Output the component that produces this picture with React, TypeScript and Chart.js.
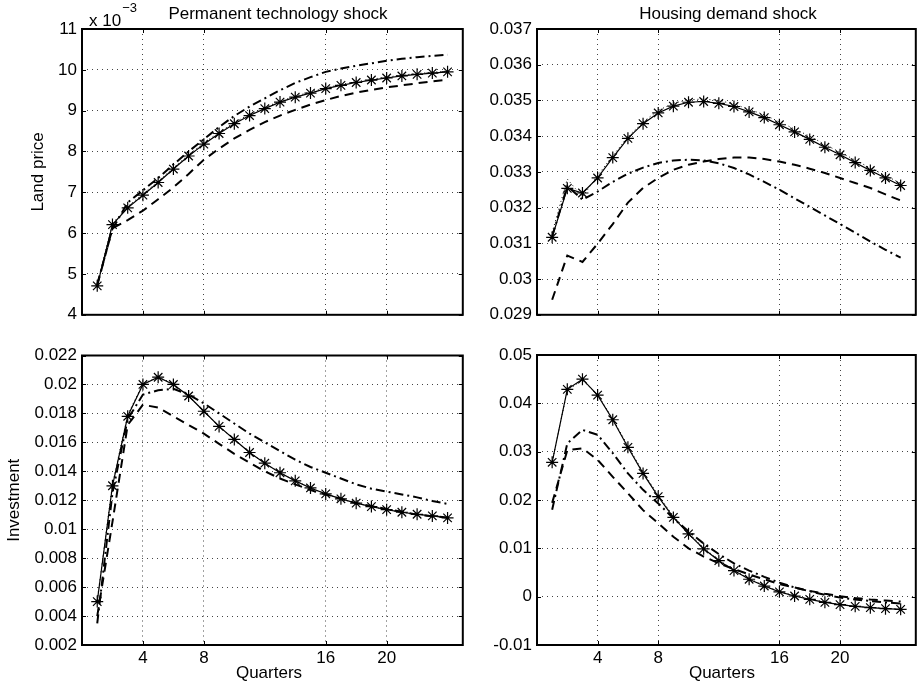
import React, { useEffect, useRef } from "react";
import { Chart, registerables } from "chart.js";

Chart.register(...registerables);

const FONT = "'Liberation Sans', Arial, Helvetica, sans-serif";
const FS = 17;

// ---------- data ----------
const quarters = [1, 2, 3, 4, 5, 6, 7, 8, 9, 10, 11, 12, 13, 14, 15, 16, 17, 18, 19, 20, 21, 22, 23, 24];
const xTicks = [4, 8, 16, 20];

// Top-left: Land price, permanent technology shock (values in units of 10^-3)
const tlSolid = [4.71, 6.21, 6.62, 6.93, 7.24, 7.57, 7.89, 8.18, 8.44, 8.68, 8.88, 9.05, 9.21, 9.33, 9.43, 9.54, 9.62, 9.69, 9.75, 9.8, 9.85, 9.89, 9.92, 9.95];
const tlDotted = [4.73, 6.24, 6.65, 6.96, 7.27, 7.6, 7.92, 8.21, 8.47, 8.71, 8.91, 9.08, 9.23, 9.35, 9.46, 9.56, 9.64, 9.71, 9.77, 9.82, 9.87, 9.91, 9.94, 9.97];
const tlDashed = [4.72, 6.12, 6.32, 6.55, 6.83, 7.12, 7.45, 7.8, 8.07, 8.32, 8.53, 8.72, 8.88, 9.02, 9.15, 9.26, 9.36, 9.44, 9.51, 9.57, 9.62, 9.67, 9.72, 9.76];
const tlDashDot = [4.75, 6.1, 6.75, 7.05, 7.35, 7.68, 8.0, 8.3, 8.6, 8.87, 9.1, 9.3, 9.5, 9.68, 9.82, 9.95, 10.03, 10.1, 10.16, 10.22, 10.27, 10.31, 10.34, 10.37];
const tlYTicks = [4, 5, 6, 7, 8, 9, 10, 11];
const tlYLabels = ["4", "5", "6", "7", "8", "9", "10", "11"];

// Top-right: Land price, housing demand shock
const trSolid = [0.03117, 0.03254, 0.03241, 0.03283, 0.0334, 0.03394, 0.03435, 0.03465, 0.03484, 0.03495, 0.03497, 0.03492, 0.03483, 0.03468, 0.03452, 0.03432, 0.03412, 0.03391, 0.03369, 0.03348, 0.03326, 0.03304, 0.03283, 0.03262];
const trDotted = [0.0313, 0.0328, 0.0323, 0.0329, 0.03345, 0.03398, 0.0344, 0.03472, 0.03492, 0.03502, 0.03504, 0.035, 0.0349, 0.03475, 0.0346, 0.0344, 0.0342, 0.034, 0.03377, 0.03355, 0.03333, 0.03311, 0.0329, 0.03268];
const trDashed = [0.02942, 0.03066, 0.03048, 0.03099, 0.03154, 0.03214, 0.03255, 0.03283, 0.03306, 0.0332, 0.03329, 0.03336, 0.0334, 0.0334, 0.03336, 0.03329, 0.0332, 0.03309, 0.03297, 0.03283, 0.03269, 0.03255, 0.03237, 0.0322];
const trDashDot = [0.0312, 0.0326, 0.03222, 0.03245, 0.03272, 0.03295, 0.03312, 0.03325, 0.03332, 0.03334, 0.03332, 0.03324, 0.03311, 0.03293, 0.03272, 0.0325, 0.03226, 0.03202, 0.03178, 0.03154, 0.0313, 0.03105, 0.03082, 0.0306];
const trYTicks = [0.029, 0.03, 0.031, 0.032, 0.033, 0.034, 0.035, 0.036, 0.037];
const trYLabels = ["0.029", "0.03", "0.031", "0.032", "0.033", "0.034", "0.035", "0.036", "0.037"];

// Bottom-left: Investment, permanent technology shock
const blSolid = [0.005, 0.013, 0.0178, 0.02, 0.0205, 0.02, 0.0192, 0.01815, 0.0171, 0.0162, 0.0153, 0.01456, 0.0139, 0.01334, 0.01285, 0.01244, 0.0121, 0.0118, 0.01156, 0.01135, 0.01117, 0.01103, 0.01092, 0.01078];
const blDotted = [0.0051, 0.0131, 0.0179, 0.02005, 0.02052, 0.02005, 0.0192, 0.01815, 0.0171, 0.0162, 0.0153, 0.01456, 0.0139, 0.01334, 0.01285, 0.01244, 0.0121, 0.0118, 0.01156, 0.01135, 0.01117, 0.01103, 0.01092, 0.01078];
const blDashed = [0.004, 0.0105, 0.0172, 0.0186, 0.0184, 0.0178, 0.0172, 0.0166, 0.0159, 0.0152, 0.0146, 0.014, 0.0135, 0.0131, 0.0127, 0.0124, 0.0121, 0.0118, 0.0116, 0.0114, 0.0112, 0.011, 0.0109, 0.0108];
const blDashDot = [0.0035, 0.0125, 0.0176, 0.0193, 0.0196, 0.0197, 0.0193, 0.0187, 0.018, 0.0173, 0.0166, 0.016, 0.0154, 0.0148, 0.0143, 0.0139, 0.0135, 0.0131, 0.0128, 0.0126, 0.0124, 0.0122, 0.01195, 0.01175];
const blYTicks = [0.002, 0.004, 0.006, 0.008, 0.01, 0.012, 0.014, 0.016, 0.018, 0.02, 0.022];
const blYLabels = ["0.002", "0.004", "0.006", "0.008", "0.01", "0.012", "0.014", "0.016", "0.018", "0.02", "0.022"];

// Bottom-right: Investment, housing demand shock
const brSolid = [0.0278, 0.0429, 0.045, 0.0417, 0.0366, 0.0309, 0.0255, 0.0207, 0.0164, 0.013, 0.0099, 0.00745, 0.0054, 0.0036, 0.0022, 0.001, 0.00014, -0.00055, -0.00117, -0.00166, -0.002, -0.00228, -0.00248, -0.00262];
const brDotted = [0.0279, 0.0427, 0.0448, 0.0418, 0.0368, 0.0312, 0.0258, 0.021, 0.0167, 0.0133, 0.0101, 0.0076, 0.0055, 0.0037, 0.0023, 0.0011, 0.0002, -0.0005, -0.0011, -0.0016, -0.002, -0.0022, -0.0024, -0.0026];
const brDashed = [0.0194, 0.0303, 0.0307, 0.0283, 0.0248, 0.0214, 0.0179, 0.0152, 0.0124, 0.01, 0.0083, 0.0069, 0.0057, 0.0046, 0.0036, 0.0026, 0.0019, 0.0012, 0.0006, 0.0001, -0.0003, -0.0006, -0.0008, -0.001];
const brDashDot = [0.018, 0.0317, 0.0345, 0.0335, 0.0297, 0.0255, 0.0221, 0.0193, 0.0162, 0.0135, 0.011, 0.0088, 0.0069, 0.0054, 0.0041, 0.0029, 0.0019, 0.0011, 0.0004, -0.0002, -0.0006, -0.0009, -0.0012, -0.0014];
const brYTicks = [-0.01, 0, 0.01, 0.02, 0.03, 0.04, 0.05];
const brYLabels = ["-0.01", "0", "0.01", "0.02", "0.03", "0.04", "0.05"];

// ---------- chart helpers ----------
type Series = { solid: number[]; dotted: number[]; dashed: number[]; dashDot: number[] };

type PanelProps = {
  x: number; y: number; w: number; h: number;
  padTop: number; padRight: number; padBottom: number;
  yWidth: number; xHeight: number;
  yTicks: number[]; yLabels: string[];
  showXLabels: boolean;
  series: Series;
  title?: string; titleX?: number; titleY?: number;
  yLabel?: string; yLabelX?: number;
  xLabel?: string; xLabelX?: number; xLabelY?: number;
  multiplier?: boolean;
};

const pts = (vals: number[]) => vals.map((v, i) => ({ x: quarters[i], y: v }));

function Panel(p: PanelProps) {
  const ref = useRef<HTMLCanvasElement>(null);
  useEffect(() => {
    const annot = {
      id: "annot",
      afterDraw(chart: any) {
        const { ctx, chartArea: a, scales } = chart;
        ctx.save();
        // inward tick marks
        ctx.strokeStyle = "#000";
        ctx.lineWidth = 1;
        ctx.beginPath();
        for (const t of xTicks) {
          const px = Math.round(scales.x.getPixelForValue(t)) + 0.5;
          ctx.moveTo(px, a.bottom); ctx.lineTo(px, a.bottom - 4);
          ctx.moveTo(px, a.top); ctx.lineTo(px, a.top + 4);
        }
        for (const t of p.yTicks) {
          const py = Math.round(scales.y.getPixelForValue(t)) + 0.5;
          ctx.moveTo(a.left, py); ctx.lineTo(a.left + 4, py);
          ctx.moveTo(a.right, py); ctx.lineTo(a.right - 4, py);
        }
        ctx.stroke();
        // box
        ctx.lineWidth = 2;
        ctx.strokeRect(a.left, a.top, a.right - a.left, a.bottom - a.top);
        // texts
        ctx.fillStyle = "#000";
        ctx.font = `${FS}px ${FONT}`;
        if (p.title) {
          ctx.textAlign = "center";
          ctx.textBaseline = "alphabetic";
          ctx.fillText(p.title, p.titleX ?? (a.left + a.right) / 2, p.titleY ?? 19);
        }
        if (p.multiplier) {
          ctx.textAlign = "left";
          ctx.textBaseline = "alphabetic";
          ctx.fillText("x 10", a.left + 7, 25.5);
          const wx = ctx.measureText("x 10").width;
          ctx.font = `${Math.round(FS * 0.75)}px ${FONT}`;
          ctx.fillText("\u22123", a.left + 8 + wx, 12);
          ctx.font = `${FS}px ${FONT}`;
        }
        if (p.yLabel) {
          ctx.save();
          ctx.translate(p.yLabelX ?? 20, (a.top + a.bottom) / 2);
          ctx.rotate(-Math.PI / 2);
          ctx.textAlign = "center";
          ctx.textBaseline = "middle";
          ctx.fillText(p.yLabel, 0, 0);
          ctx.restore();
        }
        if (p.xLabel) {
          ctx.textAlign = "center";
          ctx.textBaseline = "middle";
          ctx.fillText(p.xLabel, p.xLabelX ?? (a.left + a.right) / 2, p.xLabelY ?? a.bottom + 28);
        }
        ctx.restore();
      },
    };

    const chart = new Chart(ref.current as HTMLCanvasElement, {
      type: "line",
      data: {
        datasets: [
          {
            data: pts(p.series.solid),
            borderColor: "#000",
            borderWidth: 1.2,
            pointStyle: "star",
            pointRadius: 6,
            pointBorderColor: "#000",
            pointBorderWidth: 1.2,
            pointBackgroundColor: "#000",
            tension: 0,
          },
          {
            data: pts(p.series.dotted),
            borderColor: "#000",
            borderWidth: 1,
            borderDash: [1, 3],
            pointRadius: 0,
            tension: 0,
          },
          {
            data: pts(p.series.dashed),
            borderColor: "#000",
            borderWidth: 2,
            borderDash: [9, 6],
            pointRadius: 0,
            tension: 0,
          },
          {
            data: pts(p.series.dashDot),
            borderColor: "#000",
            borderWidth: 2,
            borderDash: [9, 4, 2, 4],
            pointRadius: 0,
            tension: 0,
          },
        ],
      },
      options: {
        responsive: false,
        animation: false,
        events: [],
        layout: { padding: { top: p.padTop, right: p.padRight, bottom: p.padBottom, left: 0 } },
        plugins: { legend: { display: false }, tooltip: { enabled: false }, title: { display: false } },
        scales: {
          x: {
            type: "linear",
            min: 0,
            max: 25,
            afterBuildTicks: (s: any) => { s.ticks = xTicks.map((v) => ({ value: v })); },
            afterFit: (s: any) => { s.height = p.xHeight; },
            ticks: {
              display: p.showXLabels,
              autoSkip: false,
              maxRotation: 0,
              padding: 3,
              color: "#000",
              font: { family: FONT, size: FS },
              callback: (v: any) => String(v),
            },
            grid: { color: "#444", lineWidth: 1, drawTicks: false },
            border: { display: false, dash: [1, 4] },
          },
          y: {
            type: "linear",
            min: p.yTicks[0],
            max: p.yTicks[p.yTicks.length - 1],
            afterBuildTicks: (s: any) => { s.ticks = p.yTicks.map((v) => ({ value: v })); },
            afterFit: (s: any) => { s.width = p.yWidth; },
            ticks: {
              autoSkip: false,
              padding: 5,
              color: "#000",
              font: { family: FONT, size: FS },
              callback: (_v: any, i: number) => p.yLabels[i],
            },
            grid: { color: "#444", lineWidth: 1, drawTicks: false },
            border: { display: false, dash: [1, 4] },
          },
        },
      } as any,
      plugins: [annot],
    });
    return () => chart.destroy();
  }, []);
  return (
    <canvas
      ref={ref}
      width={p.w}
      height={p.h}
      style={{ position: "absolute", left: p.x, top: p.y, width: p.w, height: p.h }}
    />
  );
}

export default function App() {
  return (
    <div style={{ position: "absolute", left: 0, top: 0, width: 923, height: 689, background: "#fff", overflow: "hidden" }}>
      <Panel
        x={0} y={0} w={470} h={330}
        padTop={29} padRight={7} padBottom={11}
        yWidth={82} xHeight={0}
        yTicks={tlYTicks} yLabels={tlYLabels}
        showXLabels={false}
        series={{ solid: tlSolid, dotted: tlDotted, dashed: tlDashed, dashDot: tlDashDot }}
        title="Permanent technology shock" titleX={278}
        yLabel="Land price" yLabelX={38}
        multiplier
      />
      <Panel
        x={470} y={0} w={453} h={330}
        padTop={29} padRight={7} padBottom={11}
        yWidth={67} xHeight={0}
        yTicks={trYTicks} yLabels={trYLabels}
        showXLabels={false}
        series={{ solid: trSolid, dotted: trDotted, dashed: trDashed, dashDot: trDashDot }}
        title="Housing demand shock" titleX={258}
      />
      <Panel
        x={0} y={330} w={470} h={359}
        padTop={25.5} padRight={7} padBottom={0}
        yWidth={82} xHeight={44}
        yTicks={blYTicks} yLabels={blYLabels}
        showXLabels={true}
        series={{ solid: blSolid, dotted: blDotted, dashed: blDashed, dashDot: blDashDot }}
        yLabel="Investment" yLabelX={14}
        xLabel="Quarters" xLabelX={269} xLabelY={343}
      />
      <Panel
        x={470} y={330} w={453} h={359}
        padTop={25} padRight={7} padBottom={0}
        yWidth={67} xHeight={44}
        yTicks={brYTicks} yLabels={brYLabels}
        showXLabels={true}
        series={{ solid: brSolid, dotted: brDotted, dashed: brDashed, dashDot: brDashDot }}
        xLabel="Quarters" xLabelX={252} xLabelY={343}
      />
    </div>
  );
}
